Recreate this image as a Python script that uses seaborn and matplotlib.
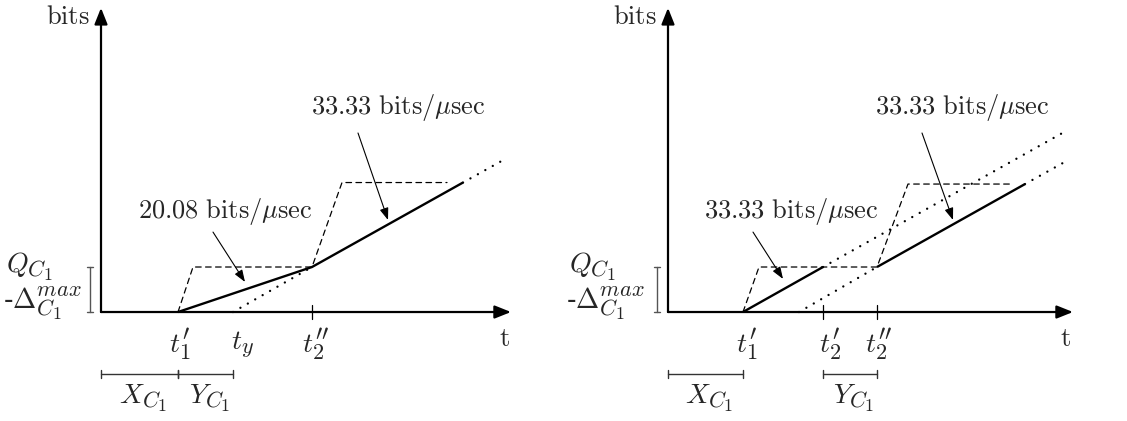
import matplotlib
matplotlib.use("Agg")
import matplotlib.pyplot as plt
import matplotlib._mathtext as _mt
import seaborn as sns
import pandas as pd

sns.set_theme(style="white")
plt.rcParams["mathtext.fontset"] = "cm"
plt.rcParams["font.family"] = ["DejaVu Serif"]
# slightly larger sub/superscripts, closer to TeX's 7pt/5pt optical sizes
_mt.SHRINK_FACTOR = 0.8

# ---------------- data (time in usec, amount in bits) ----------------
Q_LEVEL = 268            # Q_C1 - Delta_C1^max
HIGH_L = 771             # second plateau, left scenario
HIGH_R = 762             # second plateau, right scenario

# left scenario: 20.08 bits/usec, then 33.33 bits/usec
left_solid_t = [7.7, 21.1, 36.2]
left_solid_b = [0, Q_LEVEL, HIGH_L]
left_dash_t = [7.7, 9.2, 21.1, 24.1, 34.6]
left_dash_b = [0, Q_LEVEL, Q_LEVEL, HIGH_L, HIGH_L]
left_dot_ext_t = [36.2, 40.2]
left_dot_ext_b = [HIGH_L, 904]
left_dot_low_t = [13.2, 21.1]
left_dot_low_b = [0, Q_LEVEL]
left_ticks = [21.1]
left_brackets = [[0.0, 7.7], [7.7, 13.2]]
left_tick_labels = [r"$t_1'$", r"$t_y$", r"$t_2''$"]
left_tick_label_pos = [7.9, 14.1, 21.5]
left_rates = [r"$\mathrm{20.08\ bits}/\mu\mathrm{sec}$", r"$\mathrm{33.33\ bits}/\mu\mathrm{sec}$"]

# right scenario: 33.33 bits/usec in both segments
right_solid1_t = [7.5, 15.5]
right_solid1_b = [0, Q_LEVEL]
right_solid2_t = [20.9, 35.7]
right_solid2_b = [Q_LEVEL, HIGH_R]
right_dash_t = [7.5, 9.1, 20.9, 24.0, 34.2]
right_dash_b = [0, Q_LEVEL, Q_LEVEL, HIGH_R, HIGH_R]
right_dot_ext_t = [35.7, 39.9]
right_dot_ext_b = [HIGH_R, 901]
right_dot_up_t = [15.5, 39.5]
right_dot_up_b = [Q_LEVEL, 1068]
right_dot_low_t = [13.1, 20.9]
right_dot_low_b = [0, Q_LEVEL]
right_ticks = [15.5, 20.9]
right_brackets = [[0.0, 7.5], [15.5, 20.9]]
right_tick_labels = [r"$t_1'$", r"$t_2'$", r"$t_2''$"]
right_tick_label_pos = [7.9, 16.2, 21.1]
right_rates = [r"$\mathrm{33.33\ bits}/\mu\mathrm{sec}$", r"$\mathrm{33.33\ bits}/\mu\mathrm{sec}$"]

FS = 19
FS_MATH = 20
DOTTED = (0, (0.01, 3.6))
DASHED = (0, (4.5, 3.5))


def line(ax, t, b, style, lw):
    df = pd.DataFrame({"t": t, "b": b})
    sns.lineplot(data=df, x="t", y="b", ax=ax, color="black", lw=lw,
                 linestyle=style, sort=False, estimator=None,
                 dash_capstyle="round", solid_capstyle="butt")


def panel(ax, xlim, solids, dashes, dots, ticks, brackets, tick_labels,
          tick_pos, rates, rate_pos, arrows, x_tip, t_label_x, xlab_pos):
    ax.set_xlim(*xlim)
    ax.set_ylim(-649, 1858)
    ax.axis("off")

    # axes with arrow heads
    ax.annotate("", xy=(0, 1811), xytext=(0, 0),
                arrowprops=dict(arrowstyle="-|>,head_length=0.7,head_width=0.28",
                                lw=1.6, color="black", shrinkA=0, shrinkB=0,
                                mutation_scale=14))
    ax.annotate("", xy=(x_tip, 0), xytext=(0, 0),
                arrowprops=dict(arrowstyle="-|>,head_length=0.7,head_width=0.28",
                                lw=1.6, color="black", shrinkA=0, shrinkB=0,
                                mutation_scale=14))
    ax.text(-3.35, 1757, r"$\mathrm{bits}$", fontsize=FS, ha="center", va="center")
    ax.text(t_label_x, -160, r"$\mathrm{t}$", fontsize=FS, ha="center", va="center")

    for t, b in dashes:
        line(ax, t, b, DASHED, 0.9)
    for t, b in dots:
        line(ax, t, b, DOTTED, 1.7)
    for t, b in solids:
        line(ax, t, b, "-", 1.7)

    for tk in ticks:
        ax.plot([tk, tk], [-40, 40], color="black", lw=0.9)

    for lab, x in zip(tick_labels, tick_pos):
        ax.text(x, -195, lab, fontsize=FS_MATH, ha="center", va="center")

    # Q - Delta bracket on the left of the y axis
    gray = "#555555"
    ax.plot([-1.1, -1.1], [0, Q_LEVEL], color=gray, lw=1.0)
    for yy in (0, Q_LEVEL):
        ax.plot([-1.4, -0.8], [yy, yy], color=gray, lw=1.0)
    ax.text(xlab_pos[0], 270, r"$Q_{C_1}$", fontsize=FS_MATH, ha="center", va="center")
    ax.text(xlab_pos[1], 50, r"-$\Delta_{C_1}^{max}$", fontsize=FS_MATH, ha="center", va="center")

    # X and Y interval brackets under the time axis
    for (a, b_), lab in zip(brackets, [r"$X_{C_1}$", r"$Y_{C_1}$"]):
        ax.plot([a, b_], [-369, -369], color="#333333", lw=1.0)
        for xx in (a, b_):
            ax.plot([xx, xx], [-390, -348], color="#333333", lw=1.0)
        ax.text((a + b_) / 2 + 0.4, -515, lab, fontsize=FS_MATH, ha="center", va="center")

    for txt, pos, (start, end) in zip(rates, rate_pos, arrows):
        ax.text(pos[0], pos[1], txt, fontsize=FS, ha="center", va="center")
        ax.annotate("", xy=end, xytext=start,
                    arrowprops=dict(arrowstyle="-|>,head_length=0.6,head_width=0.22",
                                    lw=0.8, color="black", shrinkA=0, shrinkB=0,
                                    mutation_scale=12))


fig = plt.figure(figsize=(11.27, 4.21), dpi=100)
ax_l = fig.add_axes([0, 0, 560 / 1127, 1])
ax_r = fig.add_axes([560 / 1127, 0, 567 / 1127, 1])

panel(ax_l, (-10.1, 45.9),
      solids=[(left_solid_t, left_solid_b)],
      dashes=[(left_dash_t, left_dash_b)],
      dots=[(left_dot_ext_t, left_dot_ext_b), (left_dot_low_t, left_dot_low_b)],
      ticks=left_ticks, brackets=left_brackets,
      tick_labels=left_tick_labels, tick_pos=left_tick_label_pos,
      rates=left_rates, rate_pos=[(12.4, 596), (29.7, 1215)],
      arrows=[((11.2, 476), (14.4, 179)), ((25.7, 1066), (28.7, 548))],
      x_tip=41.0, t_label_x=40.3, xlab_pos=(-7.15, -5.9))

panel(ax_r, (-10.8, 45.9),
      solids=[(right_solid1_t, right_solid1_b), (right_solid2_t, right_solid2_b)],
      dashes=[(right_dash_t, right_dash_b)],
      dots=[(right_dot_ext_t, right_dot_ext_b), (right_dot_up_t, right_dot_up_b),
            (right_dot_low_t, right_dot_low_b)],
      ticks=right_ticks, brackets=right_brackets,
      tick_labels=right_tick_labels, tick_pos=right_tick_label_pos,
      rates=right_rates, rate_pos=[(12.3, 596), (29.45, 1215)],
      arrows=[((8.5, 476), (11.5, 197)), ((25.4, 1066), (28.5, 548))],
      x_tip=40.5, t_label_x=39.7, xlab_pos=(-7.5, -6.3))

fig.savefig("out.png", dpi=100)
